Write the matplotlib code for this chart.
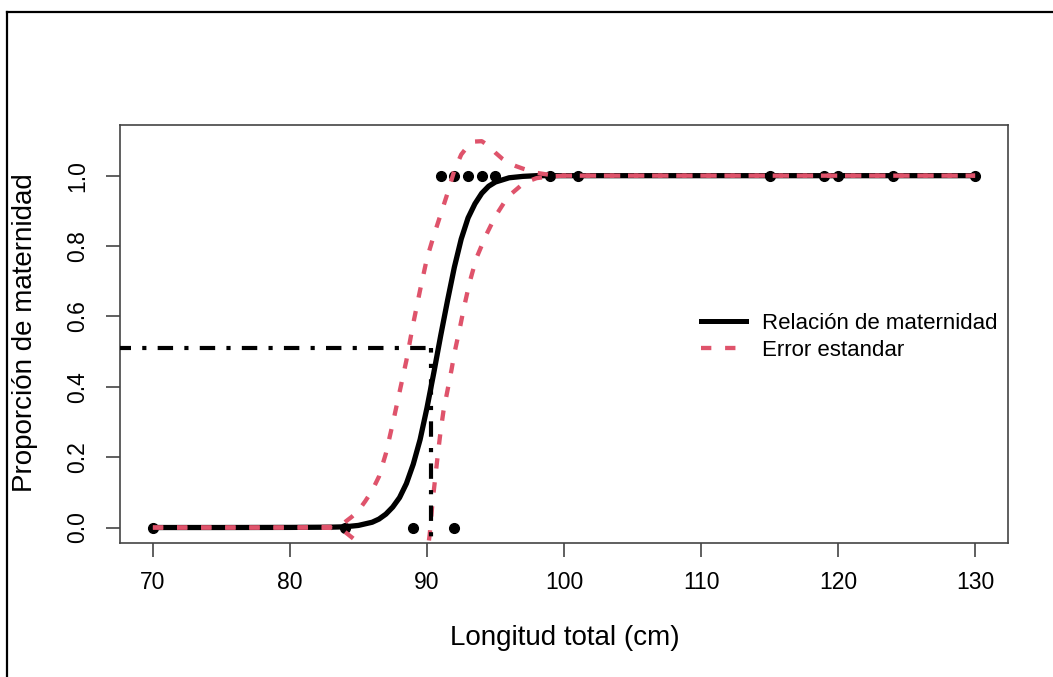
import matplotlib
matplotlib.use("Agg")
import matplotlib.pyplot as plt
from matplotlib.lines import Line2D

plt.rcParams['font.family'] = ['Liberation Sans', 'DejaVu Sans']

# ---- observed data (length, maturity 0/1) ----
talla_obs = [70, 84, 89, 92, 91, 92, 93, 94, 95, 99, 101, 115, 119, 120, 124, 130]
madurez_obs = [0, 0, 0, 0, 1, 1, 1, 1, 1, 1, 1, 1, 1, 1, 1, 1]

# ---- fitted maturity curve ----
ajuste_x = [70, 75, 80, 83, 84, 85, 86, 86.5, 87, 87.5, 88, 88.5, 89, 89.5, 90, 90.5,
            91, 91.5, 92, 92.5, 93, 93.5, 94, 94.5, 95, 96, 97, 98, 100, 110, 120, 130]
ajuste_y = [0, 0, 0.0003, 0.001, 0.002, 0.006, 0.015, 0.024, 0.038, 0.058, 0.085, 0.125,
            0.18, 0.25, 0.34, 0.44, 0.545, 0.645, 0.74, 0.82, 0.88, 0.92, 0.95, 0.97,
            0.982, 0.994, 0.998, 1.0, 1.0, 1.0, 1.0, 1.0]

# ---- upper standard-error band ----
sup_x = [70, 80, 83, 83.5, 84, 84.5, 85, 85.5, 86, 86.5, 87, 87.5, 88, 88.5, 89, 89.5,
         90, 90.5, 91, 91.5, 92, 92.5, 93, 93.5, 94, 94.5, 95, 95.5, 96, 96.5, 97, 98,
         99, 100, 130]
sup_y = [0, 0, 0.002, 0.006, 0.015, 0.03, 0.048, 0.075, 0.105, 0.145, 0.21, 0.295,
         0.385, 0.475, 0.58, 0.675, 0.765, 0.83, 0.89, 0.95, 1.015, 1.06, 1.085, 1.097,
         1.098, 1.085, 1.065, 1.048, 1.035, 1.027, 1.02, 1.008, 1.002, 1.0, 1.0]

# ---- lower standard-error band ----
inf_x = [70, 80, 83, 84, 85, 86, 87, 88, 88.7, 89.2, 89.7, 90.0, 90.2, 90.4, 90.6, 90.8,
         91.0, 91.2, 91.5, 91.8, 92.0, 92.4, 92.7, 93.1, 93.6, 94.3, 95.0, 95.9, 97.1,
         98, 99, 100, 130]
inf_y = [0, 0, -0.001, -0.012, -0.043, -0.07, -0.13, -0.22, -0.26, -0.24, -0.15, -0.08,
         -0.02, 0.07, 0.14, 0.21, 0.275, 0.33, 0.39, 0.45, 0.495, 0.567, 0.625, 0.695,
         0.765, 0.83, 0.885, 0.94, 0.98, 0.993, 0.998, 1.0, 1.0]

# ---- L50 reference ----
l50_x = 90.3
l50_h_end = 90.65
l50_y = 0.51

x_ticks = [70, 80, 90, 100, 110, 120, 130]
y_ticks = [0.0, 0.2, 0.4, 0.6, 0.8, 1.0]
y_tick_labels = ["0.0", "0.2", "0.4", "0.6", "0.8", "1.0"]

ROJO = "#DF536B"
RED_DASH = (2.4, 3.2)

W, H = 1053, 677
fig = plt.figure(figsize=(W / 100, H / 100), dpi=100)
ax = fig.add_axes([120 / W, 1 - 543 / H, (1008 - 120) / W, (543 - 125) / H])

ax.plot(talla_obs, madurez_obs, 'o', color='black', ms=7, zorder=2)
ax.plot(ajuste_x, ajuste_y, '-', color='black', lw=3.8, zorder=3)
ax.plot(sup_x, sup_y, color=ROJO, lw=3.1, dashes=RED_DASH, zorder=4)
ax.plot(inf_x, inf_y, color=ROJO, lw=3.1, dashes=RED_DASH, zorder=4)
ax.plot([60, l50_h_end], [l50_y, l50_y], color='black', lw=3.0,
        dashes=(1, 2.7, 3.7, 2.7), zorder=5)
ax.plot([l50_x, l50_x], [-0.1, l50_y], color='black', lw=3.0,
        dashes=(3.7, 2.7, 1, 2.7), zorder=5)

ax.set_xlim(67.6, 132.4)
ax.set_ylim(-0.044, 1.144)
ax.set_xticks(x_ticks)
ax.set_xticklabels([str(v) for v in x_ticks])
ax.set_yticks(y_ticks)
ax.set_yticklabels(y_tick_labels, rotation=90, va='center')

for s in ax.spines.values():
    s.set_color('#444444')
    s.set_linewidth(1.2)
ax.tick_params(axis='both', length=10, width=1.2, color='#444444', labelsize=16.5,
               labelcolor='black')
ax.tick_params(axis='x', pad=10)
ax.tick_params(axis='y', pad=12)

fig.text(565 / W, 1 - 638 / H, "Longitud total (cm)", ha='center', va='center',
         fontsize=20)
fig.text(25 / W, 1 - 333 / H, "Proporción de maternidad", ha='center', va='center',
         rotation=90, fontsize=20)

handles = [Line2D([], [], color='black', lw=3.6),
           Line2D([], [], color=ROJO, lw=3.1, dashes=RED_DASH)]
fig.legend(handles, ["Relación de maternidad", "Error estandar"],
           loc='center left', bbox_to_anchor=(690 / W, 1 - 337 / H),
           bbox_transform=fig.transFigure, frameon=False, fontsize=16,
           handlelength=2.0, handletextpad=0.75, labelspacing=0.28, borderpad=0)

# outer frame (left and top edges)
fig.add_artist(Line2D([7 / W, 7 / W], [0, 1 - 12 / H], transform=fig.transFigure,
                      color='black', lw=1.6))
fig.add_artist(Line2D([7 / W, 1], [1 - 12 / H, 1 - 12 / H], transform=fig.transFigure,
                      color='black', lw=1.6))

fig.savefig("out.png", dpi=100)
